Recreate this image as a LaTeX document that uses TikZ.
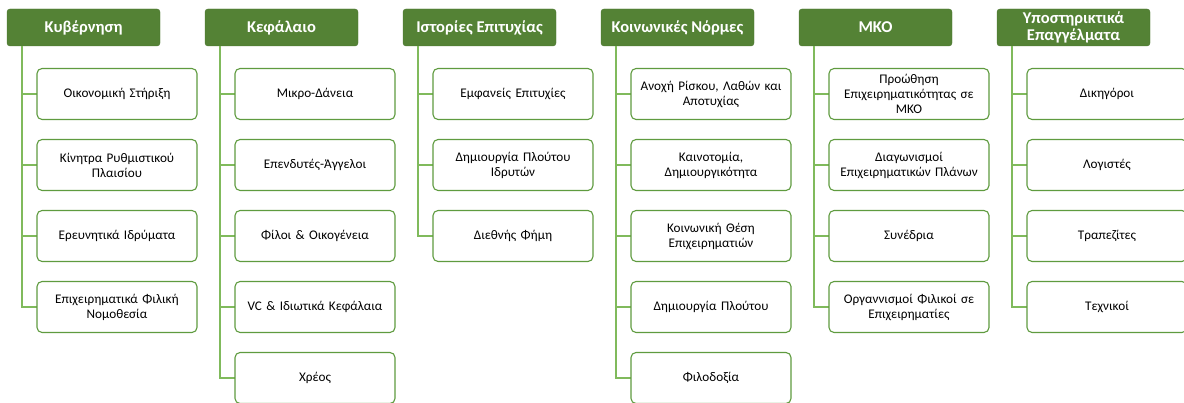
\documentclass[tikz,border=0pt]{standalone}
\usepackage{fontspec}
\setmainfont{Carlito}
\definecolor{headgreen}{HTML}{548235}
\definecolor{boxgreen}{HTML}{5F9B3F}
\definecolor{linegreen}{HTML}{80BA5C}
\tikzset{
  head/.style={draw=headgreen!90!black, fill=headgreen, rounded corners=3pt,
    minimum width=153pt, minimum height=37pt, text=white,
    font=\fontsize{16.5}{16.5}\selectfont\bfseries, align=center, inner sep=1pt},
  item/.style={draw=boxgreen, fill=white, rounded corners=5pt, line width=1.1pt,
    minimum width=160pt, minimum height=51pt, text width=154pt,
    font=\fontsize{13.2}{15}\selectfont, align=center, inner sep=1pt},
  link/.style={draw=linegreen, line width=1.9pt}
}
\begin{document}
\begin{tikzpicture}[x=1pt,y=-1pt]
\useasboundingbox (0,0) rectangle (1184,403);
% column headers
\node[head] (h1) at (83.5,27.5) {Κυβέρνηση};
\node[head] (h2) at (281.5,27.5) {Κεφάλαιο};
\node[head] (h3) at (479.5,27.5) {Ιστορίες Επιτυχίας};
\node[head] (h4) at (677.5,27.5) {Κοινωνικές Νόρμες};
\node[head] (h5) at (875.5,27.5) {ΜΚΟ};
\node[head] (h6) at (1073.5,27.5) {Υποστηρικτικά\\Επαγγέλματα};
% spine tops below each header
\foreach \i/\x in {1/22,2/220,3/418,4/616,5/814,6/1012}
  \coordinate (s\i) at (\x,46);
% connectors: spine down, then across to each item position
\foreach \s/\x/\list in {s1/37/{94,165,236,307}, s2/235/{94,165,236,307,378},
                         s3/433/{94,165,236}, s4/631/{94,165,236,307,378},
                         s5/829/{94,165,236,307}, s6/1027/{94,165,236,307}}
  \foreach \y in \list
    \draw[link] (\s) |- (\x,\y);
% column 1
\node[item] (a1) at (117,94) {Οικονομική Στήριξη};
\node[item] (a2) at (117,165) {Κίνητρα Ρυθμιστικού\\Πλαισίου};
\node[item] (a3) at (117,236) {Ερευνητικά Ιδρύματα};
\node[item] (a4) at (117,307) {Επιχειρηματικά Φιλική\\Νομοθεσία};
% column 2
\node[item] (b1) at (315,94) {Μικρο-Δάνεια};
\node[item] (b2) at (315,165) {Επενδυτές-Άγγελοι};
\node[item] (b3) at (315,236) {Φίλοι \& Οικογένεια};
\node[item] (b4) at (315,307) {VC \& Ιδιωτικά Κεφάλαια};
\node[item] (b5) at (315,378) {Χρέος};
% column 3
\node[item] (c1) at (513,94) {Εμφανείς Επιτυχίες};
\node[item] (c2) at (513,165) {Δημιουργία Πλούτου\\Ιδρυτών};
\node[item] (c3) at (513,236) {Διεθνής Φήμη};
% column 4
\node[item] (d1) at (711,94) {Ανοχή Ρίσκου, Λαθών και\\Αποτυχίας};
\node[item] (d2) at (711,165) {Καινοτομία,\\Δημιουργικότητα};
\node[item] (d3) at (711,236) {Κοινωνική Θέση\\Επιχειρηματιών};
\node[item] (d4) at (711,307) {Δημιουργία Πλούτου};
\node[item] (d5) at (711,378) {Φιλοδοξία};
% column 5
\node[item] (e1) at (909,94) {Προώθηση\\Επιχειρηματικότητας σε\\ΜΚΟ};
\node[item] (e2) at (909,165) {Διαγωνισμοί\\Επιχειρηματικών Πλάνων};
\node[item] (e3) at (909,236) {Συνέδρια};
\node[item] (e4) at (909,307) {Οργαννισμοί Φιλικοί σε\\Επιχειρηματίες};
% column 6
\node[item] (f1) at (1107,94) {Δικηγόροι};
\node[item] (f2) at (1107,165) {Λογιστές};
\node[item] (f3) at (1107,236) {Τραπεζίτες};
\node[item] (f4) at (1107,307) {Τεχνικοί};
\end{tikzpicture}
\end{document}
